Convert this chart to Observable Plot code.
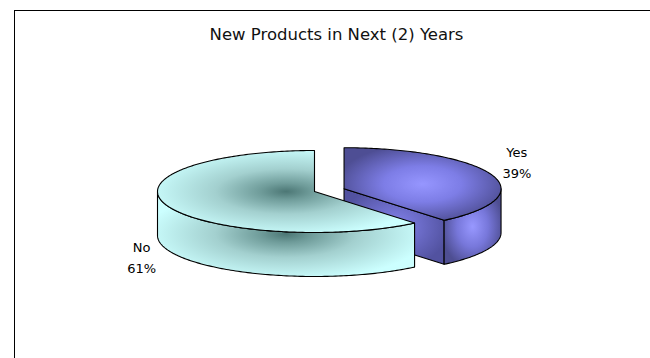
<!DOCTYPE html>
<html>
<head>
<meta charset="utf-8">
<script src="https://cdn.jsdelivr.net/npm/d3@7"></script>
<script src="https://cdn.jsdelivr.net/npm/@observablehq/plot@0.6"></script>
<style>
  html, body { margin: 0; padding: 0; background: #fff; overflow: hidden; }
  #wrap { position: relative; width: 650px; height: 358px; overflow: hidden; }
  #chart svg { display: block; }
  #border { position: absolute; left: 14px; top: 10px; width: 700px; height: 400px;
            border-left: 1px solid #000; border-top: 1px solid #000; pointer-events: none; }
</style>
</head>
<body>
<div id="wrap"><div id="chart"></div><div id="border"></div></div>
<script>
// ---- data ----
const title = "New Products in Next (2) Years";
const categories = ["Yes", "No"];
const values = [39, 61];          // percent
const explode = [0.2, 0];         // fraction of radius each slice is pulled out

// ---- styles ----
const topStops = {
  Yes: [[0, "#9696ff"], [0.45, "#7d7de6"], [1, "#4e4e94"]],
  No:  [[0, "#4c7775"], [0.18, "#6f9c9a"], [0.5, "#a3d0cf"], [1, "#ccffff"]]
};
const sideStops = {
  Yes: [[0, "#9898ff"], [0.5, "#7777da"], [1, "#4e4e92"]],
  No:  [[0, "#4c7775"], [0.18, "#6f9c9a"], [0.5, "#a3d0cf"], [1, "#ccffff"]]
};
const cutStops = {
  Yes: [[0, "#8484ee"], [1, "#5252a0"]],
  No:  [[0, "#6f9c9a"], [1, "#a3d0cf"]]
};

// ---- geometry (unit radius) ----
const W = 650, H = 358;
const R = 157;                 // px per unit radius
const CX = 314, CY = 191;      // pixel position of pie centre
const TILT = 41 / 157;         // ellipse flattening
const DEPTH = 44 / 157;        // pie thickness

const total = d3.sum(values);
let acc = 0;
const slices = categories.map((c, i) => {
  const a0 = acc / total * 2 * Math.PI;
  acc += values[i];
  const a1 = acc / total * 2 * Math.PI;
  const mid = (a0 + a1) / 2;
  return {
    c, v: values[i], a0, a1, mid,
    ex: Math.sin(mid) * explode[i],
    ey: Math.cos(mid) * explode[i] * TILT
  };
});

const pt = (s, th, r = 1, drop = 0) => ({x: s.ex + r * Math.sin(th), y: s.ey + r * Math.cos(th) * TILT - drop});
const vtx = (s, drop = 0) => ({x: s.ex, y: s.ey - drop});
function arc(s, t0, t1, drop = 0) {
  const n = Math.max(2, Math.ceil(Math.abs(t1 - t0) / (Math.PI / 180)));
  return d3.range(n + 1).map(k => pt(s, t0 + (t1 - t0) * k / n, 1, drop));
}

const shapes = [];
const gradients = [];
slices.forEach((s, i) => {
  if (Math.sin(s.a1) > 1e-6) {
    const id = `cut1-${i}`;
    gradients.push({id, stops: cutStops[s.c]});
    shapes.push({grad: id, points: [vtx(s), pt(s, s.a1), pt(s, s.a1, 1, DEPTH), vtx(s, DEPTH), vtx(s)]});
  }
  if (Math.sin(s.a0) < -1e-6) {
    const id = `cut0-${i}`;
    gradients.push({id, stops: cutStops[s.c]});
    shapes.push({grad: id, points: [vtx(s), pt(s, s.a0), pt(s, s.a0, 1, DEPTH), vtx(s, DEPTH), vtx(s)]});
  }
  const t0 = Math.max(s.a0, Math.PI / 2), t1 = Math.min(s.a1, 3 * Math.PI / 2);
  if (t1 > t0) {
    const id = `side-${i}`;
    gradients.push({id, stops: sideStops[s.c]});
    const top = arc(s, t0, t1);
    const bot = arc(s, t1, t0, DEPTH);
    shapes.push({grad: id, points: [...top, ...bot, top[0]]});
  }
  const id = `top-${i}`;
  gradients.push({id, stops: topStops[s.c]});
  shapes.push({grad: id, points: [vtx(s), ...arc(s, s.a0, s.a1), vtx(s)]});
});

// labels: outside the slice, above the rim for back slices, below the side for front ones
const labels = slices.map(s => {
  const p = pt(s, s.mid, 1.17);
  const back = Math.cos(s.mid) >= 0;
  return {
    x: p.x,
    y: p.y + (back ? 12 / R : -DEPTH - 4 / R),
    text: `${s.c}\n${s.v}%`
  };
});

const gradDefs = () => {
  const defs = d3.create("svg:defs");
  for (const g of gradients) {
    const rg = defs.append("radialGradient").attr("id", g.id)
      .attr("cx", 0.5).attr("cy", 0.5).attr("r", 0.55);
    g.stops.forEach(([o, c]) => rg.append("stop").attr("offset", o).attr("stop-color", c));
  }
  return defs.node();
};

const chart = Plot.plot({
  width: W,
  height: H,
  margin: 0,
  style: {fontFamily: "DejaVu Sans", background: "#fff", color: "#000"},
  x: {domain: [-CX / R, (W - CX) / R], range: [0, W], axis: null},
  y: {domain: [-(H - CY) / R, CY / R], range: [H, 0], axis: null},
  marks: [
    gradDefs,
    Plot.text([title], {frameAnchor: "top", lineAnchor: "top", dx: 11, dy: 28, fontSize: 16.5, fill: "#111"}),
    ...shapes.map(s => Plot.line(s.points, {
      x: "x", y: "y",
      fill: `url(#${s.grad})`,
      stroke: "#000", strokeWidth: 1.1, strokeLinejoin: "round"
    })),
    Plot.text(labels, {x: "x", y: "y", text: "text", fontSize: 13, lineHeight: 1.62, fill: "#000", textAnchor: "middle"})
  ]
});
document.getElementById("chart").append(chart);
</script>
</body>
</html>
